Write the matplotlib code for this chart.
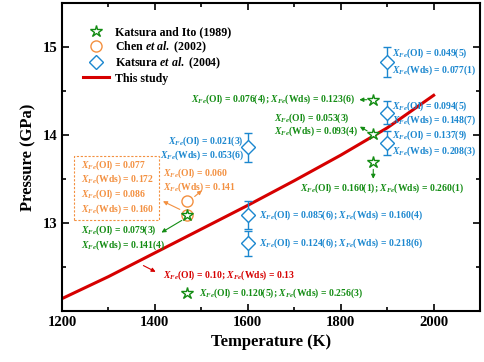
import matplotlib
matplotlib.use("Agg")
import matplotlib.pyplot as plt
from matplotlib.patches import Rectangle
from matplotlib.lines import Line2D

plt.rcParams['font.family'] = ['Liberation Serif', 'DejaVu Serif']
plt.rcParams['font.weight'] = 'bold'
plt.rcParams['mathtext.fontset'] = 'custom'
plt.rcParams['mathtext.rm'] = 'Liberation Serif:bold'
plt.rcParams['mathtext.it'] = 'Liberation Serif:italic:bold'
plt.rcParams['mathtext.bf'] = 'Liberation Serif:bold'

GREEN = '#138c13'
ORANGE = '#f39040'
BLUE = '#1b87cf'
RED = '#d60000'

# This study (phase boundary)
line_T = [1200, 1300, 1400, 1500, 1600, 1700, 1800, 1900, 2000]
line_P = [12.14, 12.39, 12.66, 12.93, 13.20, 13.48, 13.77, 14.08, 14.45]

# Katsura and Ito (1989)
ki_T = [1870, 1870, 1870, 1470, 1470]
ki_P = [14.40, 14.01, 13.69, 13.09, 12.20]

# Chen et al. (2002)
chen_T = [1470, 1470]
chen_P = [13.09, 13.25]

# Katsura et al. (2004)
k04_T = [1900, 1900, 1900, 1600, 1600, 1600]
k04_P = [14.83, 14.25, 13.91, 13.86, 13.09, 12.77]
k04_err = [0.17, 0.13, 0.14, 0.165, 0.16, 0.14]

XOL = r'$X_{Fe}$(Ol)'
XWD = r'$X_{Fe}$(Wds)'

fig = plt.figure(figsize=(4.84, 3.62), dpi=100)
ax = fig.add_axes([0.128, 0.141, 0.864, 0.851])

ax.plot(ki_T, ki_P, ls='none', marker='*', ms=9, mfc='white', mec=GREEN,
        mew=1.0, zorder=5)
ax.plot(chen_T, chen_P, ls='none', marker='o', ms=8, mfc='none', mec=ORANGE,
        mew=1.0, zorder=4)
ax.errorbar(k04_T, k04_P, yerr=k04_err, fmt='D', ms=7, mfc='white', mec=BLUE,
            mew=1.0, ecolor=BLUE, elinewidth=1.0, capsize=3, capthick=1.0, zorder=3)
ax.plot(line_T, line_P, color=RED, lw=2.2, zorder=2)

fs = 6.95
arrow = dict(arrowstyle='-|>', lw=0.8, mutation_scale=6)

# Katsura and Ito annotations
ax.text(1831, 14.40, XOL + ' = 0.076(4); ' + XWD + ' = 0.123(6)', color=GREEN,
        fontsize=fs, ha='right', va='center')
ax.annotate('', xy=(1834, 14.40), xytext=(1862, 14.40), arrowprops=dict(arrow, color=GREEN))
ax.text(1657, 14.19, XOL + ' = 0.053(3)', color=GREEN, fontsize=fs, va='center')
ax.text(1657, 14.04, XWD + ' = 0.093(4)', color=GREEN, fontsize=fs, va='center')
ax.annotate('', xy=(1836, 14.11), xytext=(1862, 14.03), arrowprops=dict(arrow, color=GREEN))
ax.text(1889, 13.39, XOL + ' = 0.160(1); ' + XWD + ' = 0.260(1)', color=GREEN,
        fontsize=fs, ha='center', va='center')
ax.annotate('', xy=(1870, 13.47), xytext=(1870, 13.64), arrowprops=dict(arrow, color=GREEN))
ax.text(1242, 12.92, XOL + ' = 0.079(3)', color=GREEN, fontsize=fs, va='center')
ax.text(1242, 12.75, XWD + ' = 0.141(4)', color=GREEN, fontsize=fs, va='center')
ax.annotate('', xy=(1409, 12.875), xytext=(1463, 13.045), arrowprops=dict(arrow, color=GREEN))
ax.text(1495, 12.20, XOL + ' = 0.120(5); ' + XWD + ' = 0.256(3)', color=GREEN,
        fontsize=fs, va='center')

# Chen et al. annotations
ax.add_patch(Rectangle((1226, 13.03), 182, 0.73, fill=False, ec=ORANGE,
                       ls=(0, (2, 1.5)), lw=0.8))
for i, s in enumerate([XOL + ' = 0.077', XWD + ' = 0.172',
                       XOL + ' = 0.086', XWD + ' = 0.160']):
    ax.text(1242, 13.66 - i * 0.168, s, color=ORANGE, fontsize=fs, va='center')
ax.annotate('', xy=(1412, 13.26), xytext=(1459, 13.14), arrowprops=dict(arrow, color=ORANGE))
ax.text(1418, 13.57, XOL + ' = 0.060', color=ORANGE, fontsize=fs, va='center')
ax.text(1418, 13.41, XWD + ' = 0.141', color=ORANGE, fontsize=fs, va='center')
ax.annotate('', xy=(1506, 13.39), xytext=(1481, 13.28), arrowprops=dict(arrow, color=ORANGE))

# Katsura et al. (2004) annotations
ax.text(1911, 14.93, XOL + ' = 0.049(5)', color=BLUE, fontsize=fs, va='center')
ax.text(1911, 14.74, XWD + ' = 0.077(1)', color=BLUE, fontsize=fs, va='center')
ax.text(1911, 14.33, XOL + ' = 0.094(5)', color=BLUE, fontsize=fs, va='center')
ax.text(1911, 14.17, XWD + ' = 0.148(7)', color=BLUE, fontsize=fs, va='center')
ax.text(1911, 14.00, XOL + ' = 0.137(9)', color=BLUE, fontsize=fs, va='center')
ax.text(1911, 13.82, XWD + ' = 0.208(3)', color=BLUE, fontsize=fs, va='center')
ax.text(1592, 13.93, XOL + ' = 0.021(3)', color=BLUE, fontsize=fs, ha='right', va='center')
ax.text(1592, 13.77, XWD + ' = 0.053(6)', color=BLUE, fontsize=fs, ha='right', va='center')
ax.text(1625, 13.09, XOL + ' = 0.085(6); ' + XWD + ' = 0.160(4)', color=BLUE,
        fontsize=fs, va='center')
ax.text(1625, 12.77, XOL + ' = 0.124(6); ' + XWD + ' = 0.218(6)', color=BLUE,
        fontsize=fs, va='center')

# This study annotation
ax.annotate('', xy=(1407, 12.43), xytext=(1370, 12.53), arrowprops=dict(arrow, color=RED))
ax.text(1418, 12.41, XOL + ' = 0.10; ' + XWD + ' = 0.13', color=RED,
        fontsize=fs, va='center')

ax.set_xlim(1200, 2100)
ax.set_ylim(12.0, 15.5)
ax.set_xticks([1200, 1400, 1600, 1800, 2000])
ax.set_xticks([1300, 1500, 1700, 1900, 2100], minor=True)
ax.set_yticks([13, 14, 15])
ax.set_yticks([12.5, 13.5, 14.5], minor=True)
ax.tick_params(which='both', direction='in', top=True, right=True, labelsize=10.5, width=1.2)
ax.tick_params(which='major', length=5)
ax.tick_params(which='minor', length=3)
for sp in ax.spines.values():
    sp.set_linewidth(1.5)

ax.set_xlabel('Temperature (K)', fontsize=12, fontweight='bold')
ax.set_ylabel('Pressure (GPa)', fontsize=12, fontweight='bold')

handles = [
    Line2D([], [], ls='none', marker='*', ms=9, mfc='white', mec=GREEN, mew=1.0),
    Line2D([], [], ls='none', marker='o', ms=8, mfc='none', mec=ORANGE, mew=1.0),
    Line2D([], [], ls='none', marker='D', ms=7, mfc='white', mec=BLUE, mew=1.0),
    Line2D([], [], color=RED, lw=2.2),
]
labels = ['Katsura and Ito (1989)', r'Chen $et\ al.$ (2002)',
          r'Katsura $et\ al.$ (2004)', 'This study']
ax.legend(handles, labels, loc='upper left', bbox_to_anchor=(0.039, 0.94),
          frameon=False, fontsize=8.6, handlelength=2.2, handletextpad=0.5,
          labelspacing=0.1, borderaxespad=0)

fig.savefig('out.png', dpi=100)
